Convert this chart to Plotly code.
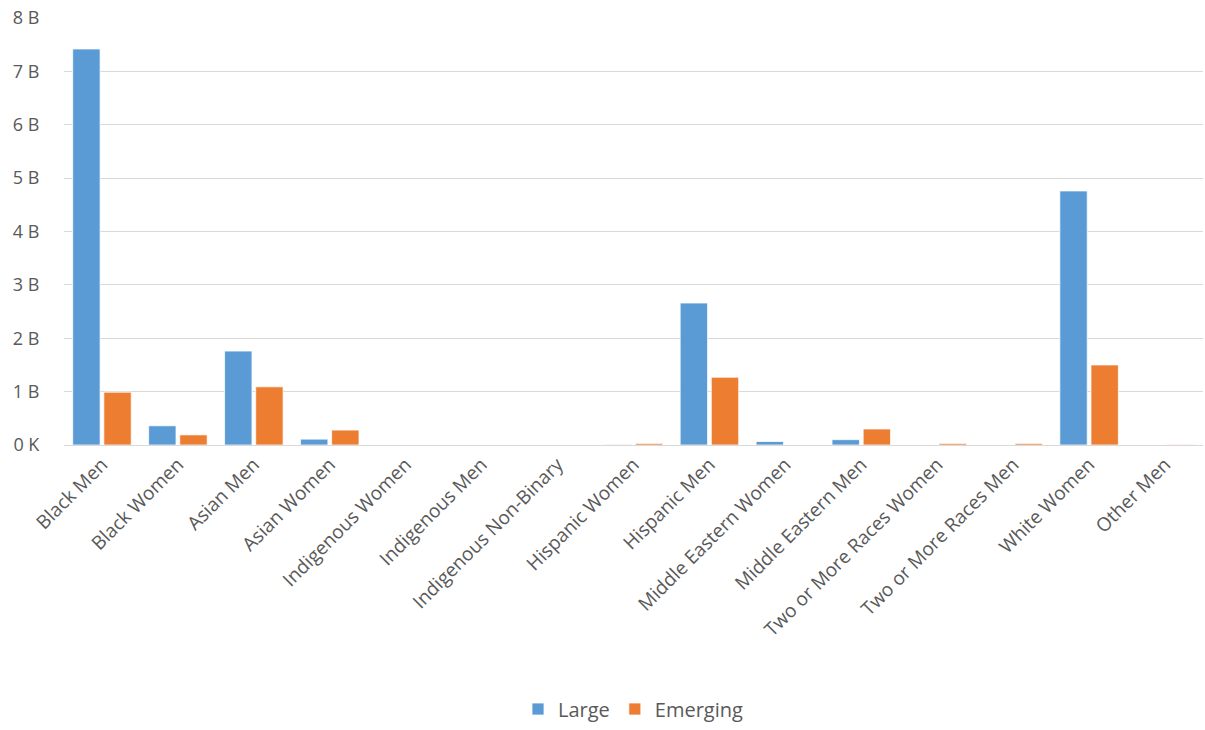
import plotly.graph_objects as go

categories = [
    "Black Men", "Black Women", "Asian Men", "Asian Women", "Indigenous Women",
    "Indigenous Men", "Indigenous Non-Binary", "Hispanic Women", "Hispanic Men",
    "Middle Eastern Women", "Middle Eastern Men", "Two or More Races Women",
    "Two or More Races Men", "White Women", "Other Men",
]
# Amounts in billions
large = [7.42, 0.36, 1.76, 0.11, 0, 0, 0, 0.01, 2.66, 0.065, 0.10, 0, 0, 4.76, 0]
emerging = [0.99, 0.19, 1.09, 0.28, 0, 0, 0, 0.03, 1.27, 0, 0.30, 0.03, 0.03, 1.50, 0.01]

tick_vals = [0, 1, 2, 3, 4, 5, 6, 7, 8]
tick_text = ["0 K", "1 B", "2 B", "3 B", "4 B", "5 B", "6 B", "7 B", "8 B"]

FONT = "Open Sans"
TEXT = "#595959"

fig = go.Figure()
fig.add_trace(go.Bar(name="Large", x=categories, y=large,
                     marker=dict(color="#5B9BD5", line=dict(color="white", width=0.75))))
fig.add_trace(go.Bar(name="Emerging", x=categories, y=emerging,
                     marker=dict(color="#ED7D31", line=dict(color="white", width=0.75))))

fig.update_layout(
    width=1205, height=730,
    barmode="group", bargap=0.18, bargroupgap=0.12,
    plot_bgcolor="white", paper_bgcolor="white",
    margin=dict(l=64, r=2, t=18, b=285),
    font=dict(family=FONT, color=TEXT, size=18),
    legend=dict(orientation="h", x=0.5, xanchor="center", y=-0.664, yanchor="bottom",
                font=dict(size=20, color=TEXT), itemwidth=30, traceorder="normal"),
    xaxis=dict(tickangle=-45, tickfont=dict(size=19, color=TEXT), showline=True,
               linecolor="#D9D9D9", linewidth=1, ticks="", showgrid=False),
    yaxis=dict(range=[0, 8], tickvals=tick_vals, ticktext=tick_text,
               tickfont=dict(size=18, color=TEXT), gridcolor="#D9D9D9", gridwidth=1,
               zeroline=False, showline=False, ticks="outside", ticklen=20,
               tickcolor="rgba(0,0,0,0)"),
)

fig.write_html("out.html")
